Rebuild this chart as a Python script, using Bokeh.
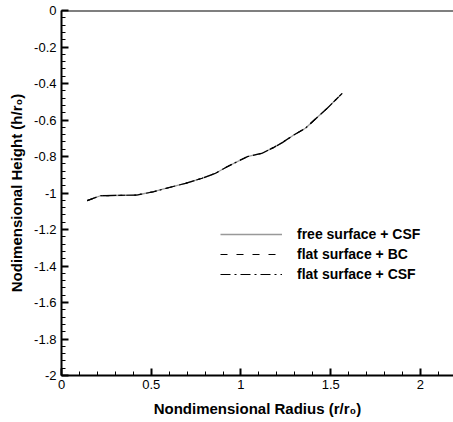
from bokeh.plotting import figure
from bokeh.models import Range1d, Legend, LegendItem, CustomJSTickFormatter, FixedTicker, Span
from bokeh.embed import file_html
from bokeh.resources import INLINE

# Data (nondimensional radius r/r0 vs height h/r0)
radius = [0.143, 0.217, 0.422, 0.513, 0.596, 0.691, 0.784, 0.858, 0.923,
          1.035, 1.118, 1.183, 1.230, 1.294, 1.359, 1.480, 1.564]
height_free_csf = [-1.042, -1.015, -1.011, -0.993, -0.971, -0.947, -0.919, -0.892, -0.856,
                   -0.801, -0.782, -0.750, -0.724, -0.682, -0.645, -0.536, -0.454]
height_flat_bc = [-1.042, -1.015, -1.011, -0.993, -0.971, -0.947, -0.919, -0.892, -0.856,
                  -0.801, -0.782, -0.750, -0.724, -0.682, -0.645, -0.536, -0.454]
height_flat_csf = [-1.042, -1.015, -1.011, -0.993, -0.971, -0.947, -0.919, -0.892, -0.856,
                   -0.801, -0.782, -0.750, -0.724, -0.682, -0.645, -0.536, -0.454]
series_names = ["free surface + CSF", "flat surface + BC", "flat surface + CSF"]
x_ticks = [0, 0.5, 1, 1.5, 2]
y_ticks = [0, -0.2, -0.4, -0.6, -0.8, -1, -1.2, -1.4, -1.6, -1.8, -2]

FONT = "Liberation Sans"

p = figure(width=453, height=422, output_backend="svg", toolbar_location=None,
           x_range=Range1d(0, 2.184), y_range=Range1d(-2, 0),
           min_border_left=61, min_border_right=0, min_border_top=10, min_border_bottom=47,
           background_fill_color="white", border_fill_color="white")
p.outline_line_color = None
p.grid.visible = False

fmt = CustomJSTickFormatter(code="return String(Number(tick.toFixed(2)));")

xa = p.xaxis[0]
xa.ticker = FixedTicker(ticks=x_ticks, minor_ticks=[i * 0.1 for i in range(0, 23)])
xa.formatter = fmt
xa.axis_label = "Nondimensional Radius (r/r\u2080)"

ya = p.yaxis[0]
ya.ticker = FixedTicker(ticks=y_ticks, minor_ticks=[-i * 0.04 for i in range(0, 51)])
ya.formatter = fmt
ya.axis_label = "Nodimensional Height (h/r\u2080)"

for ax in (xa, ya):
    ax.axis_line_width = 2
    ax.axis_line_color = "black"
    ax.major_tick_in = 7
    ax.major_tick_out = 0
    ax.minor_tick_in = 4
    ax.minor_tick_out = 0
    ax.major_tick_line_width = 2
    ax.minor_tick_line_width = 1
    ax.major_label_text_font = FONT
    ax.major_label_text_font_size = "13px"
    ax.major_label_text_color = "black"
    ax.axis_label_text_font = FONT
    ax.axis_label_text_font_size = "15px"
    ax.axis_label_text_font_style = "bold"
    ax.axis_label_text_color = "black"
xa.major_label_standoff = 4
xa.axis_label_standoff = 8
ya.major_label_standoff = 5
ya.axis_label_standoff = 6

# top frame line at h = 0
p.add_layout(Span(location=0, dimension="width", line_color="black", line_width=2))

r1 = p.line(radius, height_free_csf, line_color="#555555", line_width=1.3, line_alpha=0.6)
r2 = p.line(radius, height_flat_bc, line_color="black", line_width=1.2, line_dash="7 9")
r3 = p.line(radius, height_flat_csf, line_color="black", line_width=1.2, line_dash="10 4 2 4")

legend = Legend(items=[LegendItem(label=series_names[0], renderers=[r1]),
                       LegendItem(label=series_names[1], renderers=[r2]),
                       LegendItem(label=series_names[2], renderers=[r3])],
                location=(159, 91), border_line_color=None, background_fill_alpha=0,
                label_text_font=FONT, label_text_font_size="14px",
                label_text_font_style="bold", label_text_color="black",
                glyph_width=62, glyph_height=20, label_height=20, label_standoff=15,
                spacing=0, padding=0, margin=0)
p.add_layout(legend, "center")

open("out.html", "w").write(file_html(p, INLINE))
